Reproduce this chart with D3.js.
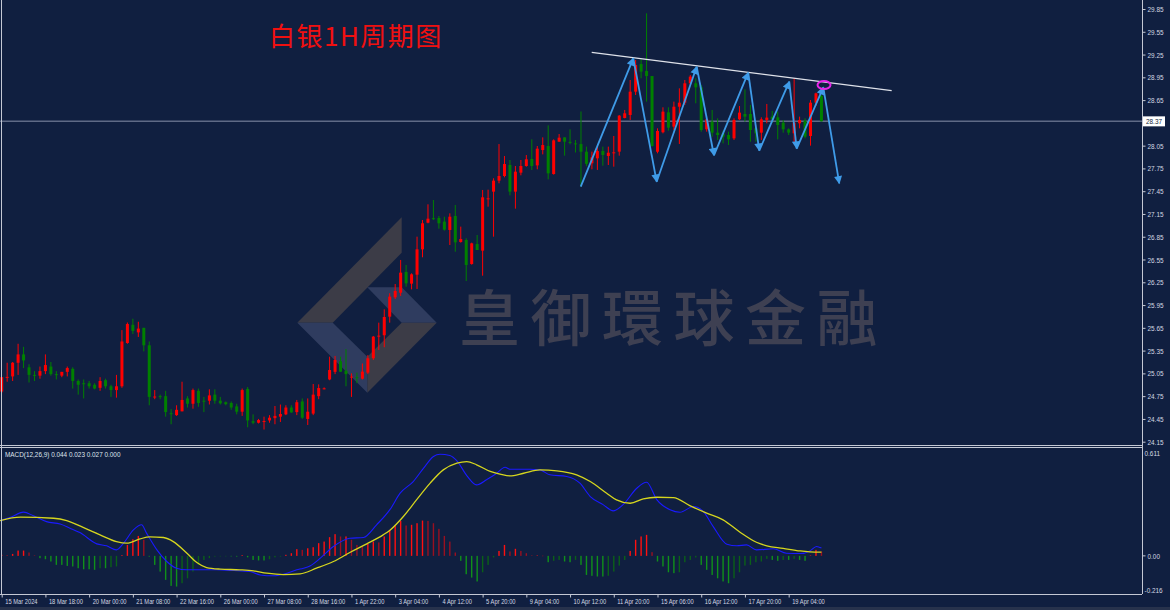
<!DOCTYPE html>
<html>
<head>
<meta charset="utf-8">
<script src="https://cdn.jsdelivr.net/npm/d3@7"></script>
<style>
  html, body { margin: 0; padding: 0; background: #101f40; }
  svg { display: block; }
  .ax text { font-family: "Liberation Sans", Arial, sans-serif; font-size: 8px; fill: #d4d8e2; }
  .ax line, .ax path { stroke: #c4c8d4; }
</style>
</head>
<body>
<svg id="chart" width="1170" height="610"></svg>
<script>
// ---------------- DATA ----------------
const title = "白银1H周期图";
const watermark = "皇御環球金融";

const openP = [24.81,25.00,25.01,25.19,25.30,25.13,25.03,25.02,25.08,25.14,25.04,25.02,25.07,25.11,24.95,24.92,24.92,24.90,24.86,24.96,
24.88,24.83,24.88,25.45,25.69,25.59,25.65,25.42,24.74,24.75,24.75,24.525,24.50,24.55,24.72,24.65,24.82,24.69,24.69,24.77,
24.69,24.67,24.66,24.615,24.545,24.845,24.42,24.40,24.42,24.43,24.46,24.48,24.51,24.60,24.54,24.68,24.45,24.52,24.75,24.85,
24.97,25.07,25.21,25.085,25.00,25.00,24.98,25.06,25.249,25.543,25.552,25.797,26.052,26.113,26.386,26.232,26.35,26.684,27.035,27.095,
27.097,27.049,26.939,27.123,26.781,26.807,26.491,26.754,26.667,27.35,27.444,27.589,27.65,27.795,27.444,27.694,27.782,27.874,27.79,27.992,
28.045,27.676,28.102,28.159,28.10,28.08,28.071,27.97,27.817,27.883,27.979,27.914,27.96,27.971,28.414,28.454,28.761,29.125,29.034,28.967,
27.97,28.226,28.489,28.30,28.563,28.616,28.871,28.871,28.818,28.265,28.366,28.221,28.212,28.19,28.146,28.397,28.467,28.467,28.278,28.221,
28.388,28.432,28.423,28.353,28.265,28.212,28.344,28.379,28.177,28.616,28.704];
const highP = [25.00,25.19,25.20,25.44,25.40,25.17,25.08,25.14,25.30,25.20,25.08,25.07,25.14,25.13,24.97,24.97,24.95,24.92,25.00,24.98,
24.90,25.03,25.62,25.72,25.77,25.73,25.65,25.47,24.83,24.77,24.82,24.58,24.63,24.94,24.75,24.85,24.85,24.74,24.84,24.84,
24.74,24.68,24.68,24.65,24.85,24.87,24.51,24.45,24.48,24.50,24.62,24.64,24.63,24.63,24.70,24.72,24.72,24.91,24.905,24.865,
25.27,25.28,25.27,25.37,25.05,25.06,25.18,25.29,25.543,25.718,25.894,26.105,26.227,26.544,26.478,26.368,26.851,27.07,27.277,27.334,
27.123,27.114,27.158,27.268,26.983,26.829,26.772,26.873,27.466,27.47,27.62,28.071,27.913,27.861,27.782,27.861,27.926,28.133,28.045,28.159,
28.317,28.133,28.203,28.159,28.265,28.124,28.50,28.037,27.971,28.037,28.037,28.037,28.177,28.454,28.52,28.915,29.178,29.187,29.793,28.967,
28.278,28.555,28.555,28.63,28.805,28.915,28.98,28.937,28.849,28.41,28.52,28.41,28.247,28.234,28.41,28.572,28.792,28.586,28.30,28.423,
28.599,28.507,28.498,28.388,28.278,28.937,28.432,28.41,28.651,28.748,28.717];
const lowP = [24.79,24.94,24.95,25.03,25.12,24.93,24.95,24.98,25.04,25.02,24.97,25.00,25.01,24.85,24.77,24.72,24.85,24.84,24.82,24.85,
24.74,24.73,24.86,25.44,25.57,25.53,25.34,24.63,24.71,24.71,24.48,24.38,24.49,24.55,24.60,24.585,24.61,24.54,24.64,24.65,
24.64,24.63,24.57,24.51,24.49,24.34,24.38,24.39,24.31,24.40,24.38,24.41,24.50,24.53,24.50,24.45,24.37,24.50,24.71,24.84,
24.96,25.04,25.07,24.88,24.74,24.92,24.97,25.04,25.227,25.358,25.394,25.718,26.03,26.07,26.192,26.157,26.162,26.579,27.027,27.07,
26.956,26.93,26.741,26.653,26.772,26.267,26.482,26.675,26.337,27.246,26.851,27.554,27.633,27.395,27.22,27.659,27.773,27.729,27.738,27.935,
27.606,27.668,28.102,27.918,28.067,27.96,27.51,27.78,27.738,27.73,27.786,27.795,27.773,27.918,28.41,28.388,28.717,28.937,28.63,28.037,
27.949,28.212,28.247,28.256,28.072,28.586,28.849,28.608,28.234,28.234,28.168,28.125,28.08,28.059,28.125,28.388,28.366,28.102,28.102,28.125,
28.344,28.353,28.133,28.221,28.19,28.072,28.278,28.146,28.05,28.572,28.37];
const closeP = [25.00,25.004,25.19,25.30,25.22,25.03,25.02,25.08,25.16,25.04,25.03,25.07,25.12,24.95,24.90,24.91,24.88,24.85,24.95,24.88,
24.83,24.88,25.47,25.70,25.61,25.64,25.42,24.74,24.745,24.745,24.54,24.52,24.57,24.70,24.65,24.83,24.66,24.685,24.76,24.69,
24.655,24.645,24.60,24.545,24.83,24.43,24.40,24.435,24.423,24.466,24.49,24.515,24.60,24.536,24.67,24.466,24.545,24.77,24.857,24.853,
25.094,25.226,25.072,25.04,25.008,24.99,25.073,25.249,25.534,25.547,25.793,26.061,26.135,26.377,26.236,26.355,26.684,27.027,27.088,27.09,
27.027,26.943,27.114,26.776,26.82,26.478,26.763,26.675,27.369,27.356,27.589,27.65,27.808,27.444,27.707,27.782,27.87,27.782,28.01,28.058,
27.685,28.12,28.155,28.102,28.093,28.075,27.97,27.81,27.896,27.979,27.927,27.957,27.962,28.445,28.476,28.761,29.112,29.025,28.967,28.045,
28.243,28.498,28.287,28.563,28.616,28.871,28.959,28.818,28.256,28.397,28.221,28.19,28.168,28.133,28.388,28.485,28.432,28.256,28.212,28.397,
28.419,28.397,28.322,28.265,28.221,28.353,28.388,28.168,28.616,28.739,28.37];

const lastPrice = 28.37;
const priceTicks = [29.85,29.55,29.25,28.95,28.65,28.35,28.05,27.75,27.45,27.15,26.85,26.55,26.25,25.95,25.65,25.35,25.05,24.75,24.45,24.15];
const timeTickIdx = [0,8,16,24,32,40,48,56,64,72,80,88,96,104,112,120,128,136,144];
const timeLabels = ["15 Mar 2024","18 Mar 18:00","20 Mar 00:00","21 Mar 08:00","22 Mar 16:00","26 Mar 00:00","27 Mar 08:00","28 Mar 16:00","1 Apr 22:00","3 Apr 04:00","4 Apr 12:00","5 Apr 20:00","9 Apr 04:00","10 Apr 12:00","11 Apr 20:00","15 Apr 06:00","16 Apr 12:00","17 Apr 20:00","19 Apr 04:00"];

// MACD histogram (one per bar)
const macdHist = [0.006,0.004,0.011,0.030,0.030,0.019,0.002,-0.013,-0.019,-0.032,-0.051,-0.051,-0.057,-0.060,-0.070,-0.076,-0.076,-0.079,-0.070,-0.070,
-0.064,-0.060,0.004,0.062,0.094,0.113,0.091,-0.004,-0.051,-0.089,-0.136,-0.170,-0.174,-0.155,-0.127,-0.089,-0.051,-0.023,-0.013,-0.004,
-0.002,-0.001,-0.002,-0.004,0.004,-0.008,-0.023,-0.026,-0.026,-0.019,-0.008,-0.004,0.006,0.015,0.038,0.034,0.043,0.049,0.072,0.081,
0.106,0.123,0.110,0.110,0.091,0.062,0.053,0.068,0.081,0.076,0.110,0.147,0.170,0.198,0.172,0.176,0.185,0.200,0.198,0.185,
0.153,0.113,0.081,0.019,-0.028,-0.104,-0.123,-0.145,-0.093,-0.051,-0.009,0.028,0.062,0.025,0.040,0.028,0.015,0.002,0.002,0.001,
-0.036,-0.028,-0.023,-0.032,-0.036,-0.023,-0.051,-0.108,-0.113,-0.117,-0.117,-0.113,-0.089,-0.055,-0.023,0.028,0.091,0.110,0.119,0.021,
-0.032,-0.060,-0.093,-0.098,-0.093,-0.036,-0.023,-0.009,-0.051,-0.079,-0.108,-0.127,-0.145,-0.155,-0.127,-0.093,-0.055,-0.051,-0.036,-0.032,
-0.017,-0.023,-0.028,-0.023,-0.023,-0.017,-0.023,-0.028,0.002,0.034,0.025];
// MACD main line (bar position, value) as read
const macdAt = [-0.3,1.5,4.0,5.8,8.2,10.7,12.5,14.3,17.4,19.2,21.0,22.3,24.1,25.6,26.5,28.4,30.2,32.0,33.8,36.3,39.3,42.4,45.4,47.3,49.7,52.2,54.0,55.2,56.4,58.3,60.7,63.7,66.2,68.6,71.1,72.9,75.3,77.2,79.0,80.2,82.0,83.3,85.1,86.9,88.7,90.6,92.1,93.0,96.7,98.5,100.3,103.4,105.8,107.7,110.1,111.9,113.8,116.2,118.0,119.9,122.3,124.1,126.6,128.4,130.2,132.7,134.5,136.3,138.1,141.2,143.6,146.1,147.9,149.1,150.0];
const macdVal = [0.200,0.217,0.248,0.227,0.194,0.180,0.157,0.132,0.068,0.057,0.034,0.072,0.147,0.176,0.129,0.034,-0.032,-0.070,-0.079,-0.079,-0.079,-0.083,-0.089,-0.108,-0.113,-0.098,-0.079,-0.070,-0.057,-0.013,0.053,0.100,0.104,0.176,0.265,0.355,0.421,0.497,0.563,0.576,0.568,0.538,0.455,0.402,0.431,0.468,0.502,0.491,0.491,0.487,0.459,0.450,0.412,0.336,0.289,0.255,0.293,0.383,0.417,0.317,0.261,0.247,0.280,0.251,0.166,0.066,0.057,0.062,0.034,0.040,0.015,0.013,0.028,0.053,0.044];
// Signal line
const sigAt = [-0.3,3.4,9.5,11.9,14.9,18.0,21.0,22.9,25.3,27.1,29.6,31.4,33.9,35.7,37.5,40.0,43.6,46.1,48.5,51.5,54.6,57.6,60.7,63.7,66.8,69.8,71.1,73.5,75.9,78.4,80.8,83.3,85.1,86.9,89.4,91.2,93.0,95.5,98.5,101.6,105.2,107.7,110.7,112.5,115.0,117.4,119.9,122.9,125.9,129.0,132.0,135.1,138.1,140.0,143.0,146.1,147.9,150.0];
const sigVal = [0.200,0.219,0.213,0.200,0.161,0.119,0.081,0.072,0.096,0.108,0.104,0.081,0.015,-0.038,-0.066,-0.075,-0.079,-0.085,-0.098,-0.106,-0.102,-0.070,-0.032,0.019,0.068,0.119,0.147,0.223,0.317,0.412,0.487,0.525,0.534,0.516,0.478,0.463,0.453,0.468,0.487,0.482,0.459,0.421,0.355,0.317,0.298,0.323,0.332,0.330,0.285,0.242,0.204,0.134,0.077,0.057,0.043,0.028,0.023,0.021];
const macdLabel = "MACD(12,26,9) 0.044 0.023 0.027 0.000";
const macdAxisVals = [0.611, 0.00, -0.216];
const macdAxisText = ["0.611", "0.00", "-0.216"];

// Annotations (bar position, price)
const zigAt  = [105.95,115.57,119.85,127.17,130.33,136.60,138.62,144.11,145.47,150.34,153.26];
const zigVal = [27.509,29.200,27.575,29.089,27.923,29.011,27.985,28.893,28.012,28.818,27.553];
const trendAt = [107.96, 162.85];
const trendVal = [29.280, 28.774];
const circleAt = 150.47, circleVal = 28.849;

// ---------------- LAYOUT ----------------
const W = 1170, H = 610;
const axisX = 1142;
const mainTop = 0, mainBot = 445;
const macdTop = 448, macdBot = 594;
const bg = "#101f40";
const upCol = "#ff0000", dnCol = "#008000";
const smallFont = "'Liberation Sans', Arial, sans-serif";

const svg = d3.select("#chart");
svg.append("rect").attr("width", W).attr("height", H).attr("fill", bg);

const x = d3.scaleLinear().domain([0, 150]).range([1.7, 1.7 + 5.465 * 150]);
const y = d3.scaleLinear().domain([24.15, 29.85]).range([441.7, 9]);
const ym = d3.scaleLinear().domain([-0.216, 0.611]).range([macdBot, macdTop]);

const defs = svg.append("defs");
defs.append("clipPath").attr("id", "clipMain").append("rect")
  .attr("x", 0).attr("y", mainTop).attr("width", axisX).attr("height", mainBot - mainTop);
defs.append("clipPath").attr("id", "clipMacd").append("rect")
  .attr("x", 0).attr("y", macdTop).attr("width", axisX).attr("height", macdBot - macdTop);
defs.append("marker").attr("id", "arrowHead")
  .attr("viewBox", "0 0 10 10").attr("refX", 9).attr("refY", 5)
  .attr("markerWidth", 9).attr("markerHeight", 8).attr("markerUnits", "userSpaceOnUse")
  .attr("orient", "auto")
  .append("path").attr("d", "M0,0 L10,5 L0,10 z").attr("fill", "#3f9be8");

// ---------------- WATERMARK ----------------
const wm = svg.append("g").attr("class", "watermark");
const darkBand = "#3c3c47", lightBand = "#2f3c5f";
wm.append("polygon").attr("points", "297.3,322.7 401.7,217.3 401.7,252.7 332.7,322.7").attr("fill", darkBand);
wm.append("polygon").attr("points", "297.3,322.7 332.7,322.7 367.3,356.7 367.3,392.7").attr("fill", lightBand);
wm.append("polygon").attr("points", "367.3,287.3 401.7,287.3 436.7,322.7 401.7,322.7").attr("fill", lightBand);
wm.append("polygon").attr("points", "401.7,322.7 436.7,322.7 367.3,392.7 367.3,356.7").attr("fill", darkBand);
wm.append("text").attr("x", 459).attr("y", 341)
  .attr("font-family", "'Noto Sans CJK TC','Noto Sans CJK SC',sans-serif")
  .attr("font-size", 61).attr("font-weight", 500).attr("letter-spacing", 10.5)
  .attr("fill", "#3e4052").text(watermark);

// ---------------- TITLE ----------------
svg.append("text").attr("x", 269).attr("y", 46)
  .attr("font-family", "'Noto Sans CJK SC',sans-serif")
  .attr("font-size", 26).attr("letter-spacing", 1.5).attr("fill", "#f01010").text(title);

// ---------------- MAIN PANEL ----------------
const main = svg.append("g").attr("clip-path", "url(#clipMain)");

// last price line
main.append("line").attr("x1", 0).attr("x2", axisX)
  .attr("y1", y(lastPrice)).attr("y2", y(lastPrice))
  .attr("stroke", "#5f6a86").attr("stroke-width", 1.5);

const bars = d3.range(openP.length).map(i => ({ i, o: openP[i], h: highP[i], l: lowP[i], c: closeP[i] }));
const cg = main.append("g").selectAll("g").data(bars).join("g");
cg.append("line")
  .attr("x1", d => x(d.i)).attr("x2", d => x(d.i))
  .attr("y1", d => y(d.h)).attr("y2", d => y(d.l))
  .attr("stroke", d => d.c >= d.o ? upCol : dnCol).attr("stroke-width", 1);
cg.append("rect")
  .attr("x", d => x(d.i) - 1.5).attr("width", 3)
  .attr("y", d => y(Math.max(d.o, d.c)))
  .attr("height", d => Math.max(1, Math.abs(y(d.o) - y(d.c))))
  .attr("fill", d => d.c >= d.o ? upCol : dnCol);

// trend line
main.append("line")
  .attr("x1", x(trendAt[0])).attr("y1", y(trendVal[0]))
  .attr("x2", x(trendAt[1])).attr("y2", y(trendVal[1]))
  .attr("stroke", "#dfe2ea").attr("stroke-width", 1.3);

// zigzag arrows
const zig = zigAt.map((k, i) => ({ k, v: zigVal[i] }));
main.append("g").selectAll("line").data(d3.pairs(zig)).join("line")
  .attr("x1", d => x(d[0].k)).attr("y1", d => y(d[0].v))
  .attr("x2", d => x(d[1].k)).attr("y2", d => y(d[1].v))
  .attr("stroke", "#3f9be8").attr("stroke-width", 1.8)
  .attr("marker-end", "url(#arrowHead)");

// magenta ellipse
main.append("ellipse").attr("cx", x(circleAt)).attr("cy", y(circleVal))
  .attr("rx", 6.5).attr("ry", 4).attr("fill", "none")
  .attr("stroke", "#e526e8").attr("stroke-width", 2);

// ---------------- MACD PANEL ----------------
const mg = svg.append("g").attr("clip-path", "url(#clipMacd)");
mg.append("g").selectAll("rect").data(macdHist).join("rect")
  .attr("x", (d, i) => x(i) - 0.7).attr("width", 1.4)
  .attr("y", d => Math.min(ym(0), ym(d)))
  .attr("height", d => Math.max(0.5, Math.abs(ym(d) - ym(0))))
  .attr("fill", (d, i) => {
    const p = i > 0 ? macdHist[i - 1] : d;
    if (d >= 0) return d >= p ? "#ff1010" : "#9a1020";
    return d <= p ? "#10901a" : "#0b6018";
  });

const line = d3.line().x(d => x(d[0])).y(d => ym(d[1])).curve(d3.curveMonotoneX);
mg.append("path").datum(macdAt.map((k, i) => [k, macdVal[i]]))
  .attr("d", line).attr("fill", "none").attr("stroke", "#1a1aff").attr("stroke-width", 1.1);
mg.append("path").datum(sigAt.map((k, i) => [k, sigVal[i]]))
  .attr("d", line).attr("fill", "none").attr("stroke", "#d6d61e").attr("stroke-width", 1.3);

svg.append("text").attr("transform", "translate(5,456.5) scale(0.8,1)")
  .attr("font-family", smallFont)
  .attr("font-size", 8).attr("fill", "#dfe3ec").text(macdLabel);

// ---------------- FRAME ----------------
const frame = svg.append("g").attr("stroke", "#c4c8d4").attr("stroke-width", 1).attr("fill", "none");
frame.append("line").attr("x1", 1.5).attr("x2", 1.5).attr("y1", 0).attr("y2", macdBot);
frame.append("line").attr("x1", 0).attr("x2", axisX).attr("y1", mainBot + 0.5).attr("y2", mainBot + 0.5);
frame.append("line").attr("x1", 0).attr("x2", axisX).attr("y1", macdTop - 0.5).attr("y2", macdTop - 0.5);
frame.append("line").attr("x1", 0).attr("x2", axisX).attr("y1", macdBot + 0.5).attr("y2", macdBot + 0.5);
svg.append("rect").attr("x", 0).attr("y", 607).attr("width", W).attr("height", 3).attr("fill", "#27324c");

// ---------------- AXES ----------------
const yAxis = svg.append("g").attr("class", "ax")
  .attr("transform", `translate(${axisX + 0.5},0)`)
  .call(d3.axisRight(y).tickValues(priceTicks).tickFormat(d3.format(".2f")).tickSize(3).tickPadding(2));
yAxis.select(".domain").attr("d", `M0,0V${macdBot}`);
yAxis.selectAll(".tick text").each(function () {
  const t = d3.select(this);
  const xx = +t.attr("x");
  t.attr("x", null).attr("transform", `translate(${xx},0) scale(0.8,1)`);
});

// MACD axis labels
const mAx = svg.append("g").attr("class", "ax").attr("transform", `translate(${axisX + 0.5},0)`);
macdAxisVals.forEach((v, i) => {
  const yy = ym(v);
  const ty = i === 0 ? yy + 7.5 : (i === 2 ? yy - 1.5 : yy + 3);
  if (i === 1) mAx.append("line").attr("x1", 0).attr("x2", 3).attr("y1", yy).attr("y2", yy);
  mAx.append("text").attr("transform", `translate(${i === 1 ? 5 : 2},${ty}) scale(0.8,1)`).text(macdAxisText[i]);
});

// current price box
const pb = svg.append("g").attr("transform", `translate(${axisX + 1},${y(lastPrice)})`);
pb.append("rect").attr("x", 0).attr("y", -5).attr("width", 22).attr("height", 10).attr("fill", "#ffffff");
pb.append("text").attr("transform", "translate(3,3) scale(0.8,1)")
  .attr("font-family", smallFont)
  .attr("font-size", 8).attr("fill", "#101f40").text(d3.format(".2f")(lastPrice));

// time axis
const xAxis = svg.append("g").attr("class", "ax")
  .attr("transform", `translate(0,${macdBot + 0.5})`)
  .call(d3.axisBottom(x).tickValues(timeTickIdx).tickFormat((d, i) => timeLabels[i]).tickSize(3).tickPadding(1));
xAxis.select(".domain").remove();
xAxis.selectAll(".tick text")
  .attr("text-anchor", "start").attr("y", null).attr("dy", null)
  .attr("transform", "translate(3,9.5) scale(0.72,1)");
</script>
</body>
</html>
